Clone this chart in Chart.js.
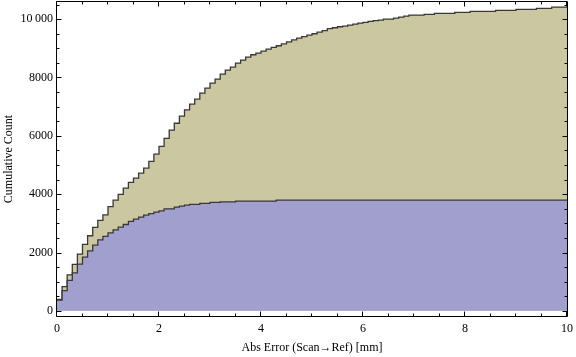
<!DOCTYPE html>
<html>
<head>
<meta charset="utf-8">
<script src="https://cdn.jsdelivr.net/npm/chart.js@4/dist/chart.umd.min.js"></script>
<style>
  html, body { margin: 0; padding: 0; background: #fff; }
  #wrap { width: 576px; height: 357px; }
</style>
</head>
<body>
<div id="wrap"><canvas id="myChart" width="576" height="357"></canvas></div>
<script>
// histogram bins, 0.1 mm wide from 0 to 10 mm
const binWidth = 0.1;
const xMax = 10;

// cumulative count, all points (olive)
const totalCounts = [
  390, 830, 1235, 1595, 1945, 2280, 2574, 2860, 3100, 3290,
  3575, 3795, 3995, 4208, 4402, 4552, 4718, 4890, 5125, 5370,
  5640, 5915, 6195, 6430, 6672, 6890, 7085, 7255, 7464, 7635,
  7807, 7944, 8115, 8252, 8355, 8492, 8595, 8698, 8778, 8835,
  8904, 8973, 9030, 9087, 9150, 9218, 9287, 9350, 9400, 9452,
  9498, 9550, 9606, 9670, 9704, 9738, 9761, 9796, 9830, 9864,
  9887, 9921, 9944, 9967, 10001, 10001, 10036, 10070, 10104, 10138,
  10138, 10138, 10161, 10161, 10196, 10196, 10196, 10196, 10230, 10230,
  10230, 10264, 10264, 10264, 10264, 10264, 10298, 10298, 10298, 10298,
  10333, 10333, 10333, 10333, 10367, 10367, 10367, 10413, 10413, 10413
];

// cumulative count, second subset (blue)
const subsetCounts = [
  365, 695, 1045, 1300, 1600, 1840, 2058, 2252, 2435, 2550,
  2675, 2778, 2870, 2961, 3064, 3144, 3213, 3281, 3330, 3385,
  3430, 3499, 3499, 3556, 3590, 3624, 3647, 3647, 3681, 3681,
  3716, 3716, 3739, 3739, 3739, 3763, 3763, 3763, 3763, 3763,
  3763, 3763, 3763, 3797, 3797, 3797, 3797, 3797, 3797, 3797,
  3797, 3797, 3797, 3797, 3797, 3797, 3797, 3797, 3797, 3797,
  3797, 3797, 3797, 3797, 3797, 3797, 3797, 3797, 3797, 3797,
  3797, 3797, 3797, 3797, 3797, 3797, 3797, 3797, 3797, 3797,
  3797, 3797, 3797, 3797, 3797, 3797, 3797, 3797, 3797, 3797,
  3797, 3797, 3797, 3797, 3797, 3797, 3797, 3797, 3797, 3797
];

const xMajorTicks = [0, 2, 4, 6, 8, 10];
const xMinorStep = 0.5;
const yMajorTicks = [0, 2000, 4000, 6000, 8000, 10000];
const yMinorStep = 500;

function toSteps(counts) {
  const pts = counts.map((c, k) => ({x: k * binWidth, y: c}));
  pts.push({x: xMax, y: counts[counts.length - 1]});
  return pts;
}

// Mathematica style frame with inward ticks on all four sides
const frameTicks = {
  id: 'frameTicks',
  afterDraw(chart) {
    const ctx = chart.ctx;
    const a = chart.chartArea;
    const x = chart.scales.x;
    const y = chart.scales.y;
    const L = Math.round(a.left) - 0.5, R = Math.round(a.right) + 0.5;
    const T = Math.round(a.top) + 0.5, B = Math.round(a.bottom) - 0.5;
    ctx.save();
    ctx.strokeStyle = '#000';
    ctx.lineWidth = 1;
    ctx.beginPath();
    ctx.rect(L, T, R - L, B - T);
    for (let v = 0; v <= xMax + 1e-9; v += xMinorStep) {
      const len = xMajorTicks.includes(Math.round(v * 10) / 10) ? 5 : 3;
      const px = Math.round(x.getPixelForValue(v)) - 0.5;
      ctx.moveTo(px, B); ctx.lineTo(px, B - len);
      ctx.moveTo(px, T); ctx.lineTo(px, T + len);
    }
    for (let v = 0; v <= y.max; v += yMinorStep) {
      const len = yMajorTicks.includes(v) ? 5 : 3;
      const py = Math.round(y.getPixelForValue(v)) + 0.5;
      ctx.moveTo(L, py); ctx.lineTo(L + len, py);
      ctx.moveTo(R, py); ctx.lineTo(R - len, py);
    }
    ctx.stroke();
    ctx.restore();
  }
};

function setup() {
  Chart.defaults.font.family = '"Liberation Serif", "Times New Roman", serif';
  Chart.defaults.font.size = 12;
  Chart.defaults.color = '#000';

  const ctx = document.getElementById('myChart').getContext('2d');
  new Chart(ctx, {
    type: 'line',
    data: {
      datasets: [
        {
          label: 'Subset',
          data: toSteps(subsetCounts),
          stepped: true,
          fill: 'origin',
          borderColor: '#383838',
          backgroundColor: 'rgb(160, 159, 205)',
          borderWidth: 1.3,
          pointRadius: 0
        },
        {
          label: 'All',
          data: toSteps(totalCounts),
          stepped: true,
          fill: 'origin',
          borderColor: '#383838',
          backgroundColor: 'rgb(203, 199, 160)',
          borderWidth: 1.3,
          pointRadius: 0
        }
      ]
    },
    options: {
      responsive: false,
      animation: false,
      layout: { padding: { top: 1, right: 9, left: 0, bottom: 0 } },
      plugins: { legend: { display: false }, tooltip: { enabled: false } },
      scales: {
        x: {
          type: 'linear',
          min: 0,
          max: xMax,
          grid: { display: false, drawTicks: false },
          border: { display: false },
          afterFit: s => { s.height = 40; s.paddingLeft = 0; s.paddingRight = 0; },
          afterBuildTicks: s => { s.ticks = xMajorTicks.map(v => ({value: v})); },
          ticks: { autoSkip: false, maxRotation: 0, padding: 5 },
          title: {
            display: true,
            text: 'Abs Error (Scan\u2192Ref) [mm]',
            padding: { top: 0, bottom: 2 }
          }
        },
        y: {
          type: 'linear',
          min: -210,
          max: 10620,
          grid: { display: false, drawTicks: false },
          border: { display: false },
          afterFit: s => { s.width = 57; s.paddingTop = 0; s.paddingBottom = 0; },
          afterBuildTicks: s => { s.ticks = yMajorTicks.map(v => ({value: v})); },
          ticks: {
            autoSkip: false,
            padding: 4,
            callback: v => v >= 10000 ? '10\u2009000' : String(v)
          },
          title: {
            display: true,
            text: 'Cumulative Count',
            padding: { top: 2, bottom: 0 }
          }
        }
      }
    },
    plugins: [frameTicks]
  });
}

window.addEventListener('load', setup);
</script>
</body>
</html>
